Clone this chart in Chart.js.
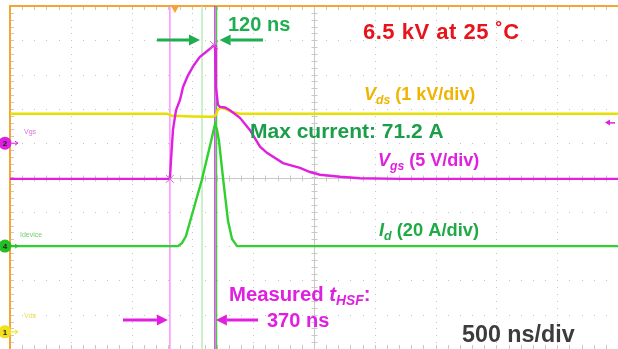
<!DOCTYPE html>
<html>
<head>
<meta charset="utf-8">
<script src="https://cdn.jsdelivr.net/npm/chart.js@4.4.0/dist/chart.umd.min.js"></script>
<style>
  html, body { margin: 0; padding: 0; background: #fff; }
  canvas { display: block; }
</style>
</head>
<body>
<canvas id="scope" width="618" height="349"></canvas>
<script>
// time axis: ns from screen centre, 500 ns/div, 10 divisions
const timeMin = -2500;
const timeMax = 2500;
const timePerDiv = 500;

// CH1  V_ds  (kV), 1 kV/div
const vdsTime = [-2500, -1210, -1170, -1000, -830, -806, -790, -773, -732, -674, -609, 2500];
const vdsKv   = [6.36, 6.36, 6.30, 6.28, 6.27, 6.33, 6.48, 6.53, 6.50, 6.41, 6.36, 6.36];

// CH2  V_gs  (V), 5 V/div
const vgsTime = [-2500, -1185, -1176, -1160, -1135, -1102, -1077, -1036, -987, -938,
                 -888, -847, -822, -814, -806, -790, -773, -732, -691, -609,
                 -526, -444, -387, -255, -115, -33, 49, 214, 378, 707, 2500];
const vgsVolt = [-5.2, -5.2, -2.5, 1.9, 4.8, 6.3, 8.2, 9.9, 11.4, 12.6,
                 13.3, 13.9, 14.3, 14.2, 8.2, 5.6, 5.3, 5.2, 4.8, 3.7,
                 1.9, -0.5, -1.4, -2.9, -3.6, -4.2, -4.6, -4.9, -5.1, -5.2, -5.2];

// CH4  I_d  (A), 20 A/div
const idTime = [-2500, -1118, -1086, -1053, -921, -847, -814, -798, -781, -748, -707, -674, -633, 2500];
const idAmp  = [0, 0, 1.7, 5.8, 39, 61, 71.2, 68, 61, 39.6, 14.6, 4.1, 0, 0];

// cursors (ns): gate on/off edge and current window
const vgsCursors = [-1185, -815];
const idCursors  = [-921, -801];
const triggerTime = -1143;
const triggerLevelV = 3;

// vertical ranges so each channel's ground marker lands where the scope put it
const vdsRange = [-0.5, 9.5];
const vgsRange = [-30, 20];
const idRange  = [-60, 140];

const YELLOW = '#e6e000';
const MAGENTA = '#e020e0';
const GREEN = '#2fd02f';
const ORANGE = '#f5a530';
const FONT = '"Liberation Sans", Arial, sans-serif';

const pts = (xs, ys) => xs.map((x, i) => ({ x: x, y: ys[i] }));
const vline = t => [{ x: t, y: -5 }, { x: t, y: 5 }];

function trace(label, xs, ys, axis, color) {
  return {
    label: label, data: pts(xs, ys), yAxisID: axis,
    borderColor: color, borderWidth: 2.4, pointRadius: 0, tension: 0
  };
}
function cursor(t, color) {
  return {
    label: 'cursor', data: vline(t), yAxisID: 'yDiv',
    borderColor: color, borderWidth: 1.3, pointRadius: 0
  };
}

// scope graticule: dotted grid, centre crosshair with ticks, orange frame
const graticule = {
  id: 'graticule',
  beforeDatasetsDraw(chart) {
    const c = chart.ctx, a = chart.chartArea;
    const X = chart.scales.x, Y = chart.scales.yDiv;
    c.save();
    c.fillStyle = '#c4c4c4';
    for (let t = timeMin + timePerDiv; t < timeMax; t += timePerDiv) {
      if (t === 0) continue;
      const px = Math.round(X.getPixelForValue(t));
      for (let d = -5; d <= 5; d += 0.2) c.fillRect(px, Math.round(Y.getPixelForValue(d)), 1, 1);
    }
    for (let d = -4; d <= 4; d++) {
      if (d === 0) continue;
      const py = Math.round(Y.getPixelForValue(d));
      for (let t = timeMin; t <= timeMax; t += 100) c.fillRect(Math.round(X.getPixelForValue(t)), py, 1, 1);
    }
    // centre crosshair
    const cx = Math.round(X.getPixelForValue(0)) + 0.5;
    const cy = Math.round(Y.getPixelForValue(0)) + 0.5;
    c.strokeStyle = '#c8c8c8';
    c.lineWidth = 1;
    c.beginPath();
    c.moveTo(a.left, cy); c.lineTo(a.right, cy);
    c.moveTo(cx, a.top); c.lineTo(cx, a.bottom);
    for (let t = timeMin; t <= timeMax; t += 100) {
      const px = Math.round(X.getPixelForValue(t)) + 0.5;
      c.moveTo(px, cy - 3); c.lineTo(px, cy + 3);
      c.moveTo(px, a.top); c.lineTo(px, a.top + 4);
      c.moveTo(px, a.bottom); c.lineTo(px, a.bottom - 4);
    }
    for (let d = -5; d <= 5; d += 0.2) {
      const py = Math.round(Y.getPixelForValue(d)) + 0.5;
      c.moveTo(cx - 3, py); c.lineTo(cx + 3, py);
      c.moveTo(a.left, py); c.lineTo(a.left + 4, py);
    }
    c.stroke();
    // orange frame
    c.fillStyle = ORANGE;
    c.fillRect(a.left - 1, a.top - 1, 2, a.bottom - a.top + 1);
    c.fillRect(a.left - 1, a.top - 1, a.right - a.left + 1, 2);
    c.restore();
  }
};

function arrow(c, x1, x2, y, color) {
  const dir = Math.sign(x2 - x1), head = 11;
  c.fillStyle = color;
  c.strokeStyle = color;
  c.lineWidth = 3;
  c.beginPath();
  c.moveTo(x1, y); c.lineTo(x2 - dir * head, y);
  c.stroke();
  c.beginPath();
  c.moveTo(x2, y);
  c.lineTo(x2 - dir * head, y - 5.5);
  c.lineTo(x2 - dir * head, y + 5.5);
  c.closePath();
  c.fill();
}

// text with optional italic / subscript runs
function rich(c, parts, x, y, size, color, spacing) {
  c.fillStyle = color;
  c.textBaseline = 'alphabetic';
  c.textAlign = 'left';
  c.letterSpacing = (spacing || 0) + 'px';
  for (const p of parts) {
    const s = p.sub ? size * 0.68 : size;
    c.font = (p.italic ? 'italic ' : '') + 'bold ' + s + 'px ' + FONT;
    c.fillText(p.t, x, y + (p.sub ? size * 0.22 : 0));
    x += c.measureText(p.t).width;
  }
  c.letterSpacing = '0px';
}

function channelMarker(c, y, color, num, x) {
  c.fillStyle = color;
  c.beginPath();
  c.arc(x, y, 6.5, 0, Math.PI * 2);
  c.fill();
  c.fillStyle = '#222';
  c.font = 'bold 8px ' + FONT;
  c.textAlign = 'center';
  c.textBaseline = 'middle';
  c.fillText(num, x, y + 0.5);
  c.strokeStyle = color;
  c.lineWidth = 1;
  c.beginPath();
  c.moveTo(x + 7, y); c.lineTo(x + 13, y);
  c.moveTo(x + 10, y - 2); c.lineTo(x + 13, y); c.lineTo(x + 10, y + 2);
  c.stroke();
}

const annotations = {
  id: 'annotations',
  afterDatasetsDraw(chart) {
    const c = chart.ctx, s = chart.scales;
    const X = s.x;
    c.save();

    // cursor crosses on the gate trace
    c.strokeStyle = '#d070d0';
    c.lineWidth = 1;
    [[vgsCursors[0], vgsVolt[1]], [-822, 14.3]].forEach(([t, v]) => {
      const px = X.getPixelForValue(t), py = s.yVgs.getPixelForValue(v);
      c.beginPath();
      c.moveTo(px - 4, py - 4); c.lineTo(px + 4, py + 4);
      c.moveTo(px + 4, py - 4); c.lineTo(px - 4, py + 4);
      c.stroke();
    });

    // trigger position and level
    const tx = X.getPixelForValue(triggerTime);
    c.fillStyle = ORANGE;
    c.beginPath();
    c.moveTo(tx - 4, 6); c.lineTo(tx + 4, 6); c.lineTo(tx, 13); c.closePath();
    c.fill();
    const ly = s.yVgs.getPixelForValue(triggerLevelV);
    c.fillStyle = MAGENTA;
    c.beginPath();
    c.moveTo(605, ly); c.lineTo(610, ly - 3); c.lineTo(610, ly + 3); c.closePath();
    c.fill();
    c.fillRect(610, ly - 0.5, 5, 1.5);

    // channel ground markers and tags
    channelMarker(c, s.yVgs.getPixelForValue(0), MAGENTA, '2', 5);
    channelMarker(c, s.yId.getPixelForValue(0), '#22c022', '4', 5);
    channelMarker(c, s.yVds.getPixelForValue(0), '#f2e01a', '1', 5);
    c.textAlign = 'left';
    c.textBaseline = 'alphabetic';
    c.font = '7px ' + FONT;
    c.fillStyle = '#e070e0'; c.fillText('Vgs', 24, 134);
    c.fillStyle = '#70d070'; c.fillText('Idevice', 20, 237);
    c.fillStyle = '#e8e050'; c.fillText('Vds', 24, 318);

    // measurement arrows
    const g1 = X.getPixelForValue(idCursors[0]), g2 = X.getPixelForValue(idCursors[1]);
    arrow(c, 157, g1 - 2, 40, '#1fae4f');
    arrow(c, 263, g2 + 3, 40, '#1fae4f');
    const m1 = X.getPixelForValue(vgsCursors[0]), m2 = X.getPixelForValue(vgsCursors[1]);
    arrow(c, 123, m1 - 2, 320, MAGENTA);
    arrow(c, 258, m2 + 1, 320, MAGENTA);

    // labels
    rich(c, [{ t: '120 ns' }], 228, 31, 20, '#1fae4f');
    rich(c, [{ t: '6.5 kV at 25 \u02daC' }], 363, 39, 22, '#e8141c', 0.5);
    rich(c, [{ t: 'V', italic: true }, { t: 'ds', italic: true, sub: true }, { t: ' (1 kV/div)' }], 364, 100, 18, '#f0b400');
    rich(c, [{ t: 'Max current: 71.2 A' }], 250, 138, 21, '#1a9e4a');
    rich(c, [{ t: 'V', italic: true }, { t: 'gs', italic: true, sub: true }, { t: ' (5 V/div)' }], 378, 166, 18, MAGENTA);
    rich(c, [{ t: 'I', italic: true }, { t: 'd', italic: true, sub: true }, { t: ' (20 A/div)' }], 379, 236, 18.3, '#1faa45');
    rich(c, [{ t: 'Measured ' }, { t: 't', italic: true }, { t: 'HSF', italic: true, sub: true }, { t: ':' }], 229, 301, 20.3, MAGENTA);
    rich(c, [{ t: '370 ns' }], 267, 327, 20, MAGENTA);
    rich(c, [{ t: '500 ns/div' }], 462, 342, 23.3, '#3c3c3c');
    c.restore();
  }
};

new Chart(document.getElementById('scope'), {
  type: 'line',
  data: {
    datasets: [
      trace('Vgs', vgsTime, vgsVolt, 'yVgs', MAGENTA),
      trace('Id', idTime, idAmp, 'yId', GREEN),
      trace('Vds', vdsTime, vdsKv, 'yVds', YELLOW),
      cursor(vgsCursors[1], '#b030c0'),
      cursor(idCursors[1], '#48c848'),
      cursor(idCursors[0], '#b0e8b0'),
      cursor(vgsCursors[0], '#ff80ff')
    ]
  },
  options: {
    responsive: false,
    animation: false,
    layout: { padding: { left: 10, top: 6, right: 0, bottom: 0 } },
    plugins: { legend: { display: false }, tooltip: { enabled: false } },
    scales: {
      x: { type: 'linear', min: timeMin, max: timeMax, display: false },
      yDiv: { min: -5, max: 5, display: false },
      yVds: { min: vdsRange[0], max: vdsRange[1], display: false },
      yVgs: { min: vgsRange[0], max: vgsRange[1], display: false },
      yId: { min: idRange[0], max: idRange[1], display: false }
    }
  },
  plugins: [graticule, annotations]
});
</script>
</body>
</html>
